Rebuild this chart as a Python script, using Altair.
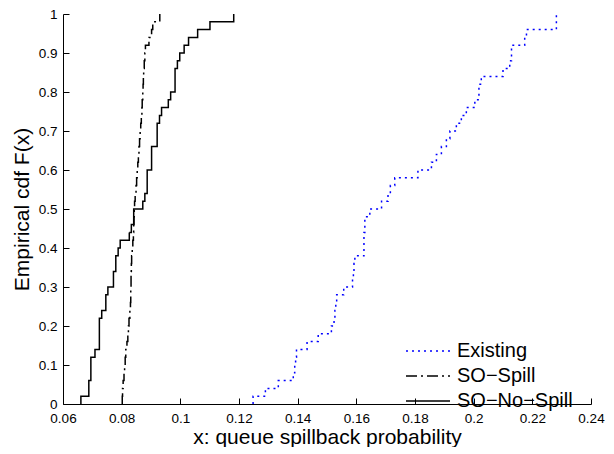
import altair as alt
import pandas as pd

x_ticks = [0.06, 0.08, 0.1, 0.12, 0.14, 0.16, 0.18, 0.2, 0.22, 0.24]
y_ticks = [0, 0.1, 0.2, 0.3, 0.4, 0.5, 0.6, 0.7, 0.8, 0.9, 1]

series_names = ["Existing", "SO\u2212Spill", "SO\u2212No\u2212Spill"]
series_colors = ["#0000ff", "#000000", "#000000"]
series_dashes = [[2, 4], [11, 4, 2, 4], [1, 0]]

# Existing: jump locations and cdf level after each jump
existing_x = [0.1248, 0.1290, 0.1334, 0.1385, 0.1390, 0.1393, 0.1396, 0.1432, 0.1470,
              0.1515, 0.1524, 0.1527, 0.1530, 0.1533, 0.1557, 0.1587, 0.1590, 0.1592,
              0.1595, 0.1626, 0.1629, 0.1646, 0.1686, 0.1708, 0.1716, 0.1731, 0.1810,
              0.1856, 0.1873, 0.1890, 0.1907, 0.1919, 0.1941, 0.1958, 0.1975, 0.2004,
              0.2018, 0.2026, 0.2100, 0.2123, 0.2129, 0.2174, 0.2180, 0.2282]
existing_F = [0.02, 0.04, 0.06, 0.08, 0.10, 0.12, 0.14, 0.16, 0.18,
              0.20, 0.22, 0.24, 0.26, 0.28, 0.30, 0.32, 0.34, 0.36,
              0.38, 0.44, 0.48, 0.50, 0.52, 0.54, 0.56, 0.58, 0.60,
              0.62, 0.64, 0.66, 0.68, 0.70, 0.72, 0.74, 0.76, 0.78,
              0.82, 0.84, 0.86, 0.88, 0.92, 0.94, 0.96, 1.00]

# SO-Spill
spill_x = [0.0802, 0.0803, 0.0805, 0.0808, 0.0810, 0.0812, 0.0814, 0.0818, 0.0821, 0.0823,
           0.0825, 0.0828, 0.0830, 0.0831, 0.0831, 0.0832, 0.0832, 0.0833, 0.0834, 0.0836,
           0.0838, 0.0840, 0.0841, 0.0842, 0.0843, 0.0844, 0.0846, 0.0849, 0.0851, 0.0853,
           0.0855, 0.0857, 0.0859, 0.0861, 0.0863, 0.0865, 0.0867, 0.0869, 0.0870, 0.0872,
           0.0873, 0.0874, 0.0875, 0.0877, 0.0879, 0.0881, 0.0893, 0.0902, 0.0906, 0.0930]
spill_F = [0.02, 0.04, 0.06, 0.08, 0.10, 0.12, 0.14, 0.16, 0.18, 0.20,
           0.22, 0.24, 0.26, 0.28, 0.30, 0.32, 0.34, 0.36, 0.38, 0.40,
           0.42, 0.44, 0.46, 0.48, 0.50, 0.52, 0.54, 0.56, 0.58, 0.60,
           0.62, 0.64, 0.66, 0.68, 0.70, 0.72, 0.74, 0.76, 0.78, 0.80,
           0.82, 0.84, 0.86, 0.88, 0.90, 0.92, 0.94, 0.96, 0.98, 1.00]

# SO-No-Spill
nospill_x = [0.0661, 0.0688, 0.0695, 0.0709, 0.0724, 0.0732, 0.0746, 0.0753, 0.0772, 0.0780,
             0.0788, 0.0795, 0.0826, 0.0833, 0.0841, 0.0872, 0.0879, 0.0887, 0.0902, 0.0921,
             0.0929, 0.0936, 0.0959, 0.0967, 0.0982, 0.0990, 0.0998, 0.1013, 0.1028, 0.1059,
             0.1101, 0.1182]
nospill_F = [0.02, 0.06, 0.12, 0.14, 0.22, 0.24, 0.28, 0.30, 0.34, 0.38,
             0.40, 0.42, 0.44, 0.46, 0.50, 0.52, 0.54, 0.60, 0.66, 0.72,
             0.74, 0.76, 0.78, 0.80, 0.86, 0.88, 0.90, 0.92, 0.94, 0.96,
             0.98, 1.00]

rows = []
for name, xs, fs in [(series_names[0], existing_x, existing_F),
                     (series_names[1], spill_x, spill_F),
                     (series_names[2], nospill_x, nospill_F)]:
    rows.append({"series": name, "x": xs[0], "F": 0.0, "ord": 0})
    for i, (xv, fv) in enumerate(zip(xs, fs)):
        rows.append({"series": name, "x": xv, "F": fv, "ord": i + 1})
df = pd.DataFrame(rows)

FONT = "Liberation Sans"
W, H = 528, 390

xscale = alt.Scale(domain=[0.06, 0.24], nice=False, zero=False)
yscale = alt.Scale(domain=[0, 1], nice=False)

leg = alt.Legend(
    orient="none", legendX=342, legendY=325, title=None,
    symbolType="M-1,0H3", symbolSize=484, symbolStrokeWidth=1.5,
    labelFontSize=20, labelFont=FONT, labelColor="black",
    labelOffset=28, rowPadding=3, padding=0,
)

lines = alt.Chart(df).mark_line(interpolate="step-after", strokeWidth=1.5).encode(
    x=alt.X("x:Q", scale=xscale,
            axis=alt.Axis(values=x_ticks, format=".2~f", grid=False, ticks=False, tickSize=0,
                          labelFlush=False, labelOverlap=False,
                          labelPadding=7, labelFontSize=13.5, labelFont=FONT, labelColor="black",
                          domainColor="black", domainWidth=1,
                          title="x: queue spillback probability", titleFont=FONT,
                          titleFontSize=21, titleFontWeight="normal", titleColor="black",
                          titleBaseline="middle", titleY=33)),
    y=alt.Y("F:Q", scale=yscale,
            axis=alt.Axis(values=y_ticks, format=".2~f", grid=False, ticks=False, tickSize=0,
                          labelFlush=False, labelOverlap=False,
                          labelPadding=6, labelFontSize=13.5, labelFont=FONT, labelColor="black",
                          domainColor="black", domainWidth=1,
                          title="Empirical cdf F(x)", titleFont=FONT,
                          titleFontSize=21, titleFontWeight="normal", titleColor="black",
                          titleBaseline="middle", titleAlign="center", titleAngle=270,
                          titleX=-41, titleY=H / 2)),
    color=alt.Color("series:N", scale=alt.Scale(domain=series_names, range=series_colors), legend=leg),
    strokeDash=alt.StrokeDash("series:N", scale=alt.Scale(domain=series_names, range=series_dashes), legend=leg),
    order="ord:Q",
)

inner = alt.Chart(df).mark_point(opacity=0).encode(
    x=alt.X("x:Q", scale=xscale,
            axis=alt.Axis(orient="top", offset=-H, values=x_ticks, labels=False, domain=False,
                          grid=False, ticks=True, tickSize=6, tickColor="black", title=None)),
    y=alt.Y("F:Q", scale=yscale,
            axis=alt.Axis(orient="right", offset=-W, values=y_ticks, labels=False, domain=False,
                          grid=False, ticks=True, tickSize=6, tickColor="black", title=None)),
)

chart = alt.layer(lines, inner).resolve_axis(x="independent", y="independent").properties(
    width=W, height=H,
    autosize=alt.AutoSizeParams(type="none"),
    padding={"left": 55, "top": 6, "right": 15, "bottom": 43},
).configure_view(stroke=None)

chart.save("out.html", embed_options={"renderer": "svg", "actions": False})
